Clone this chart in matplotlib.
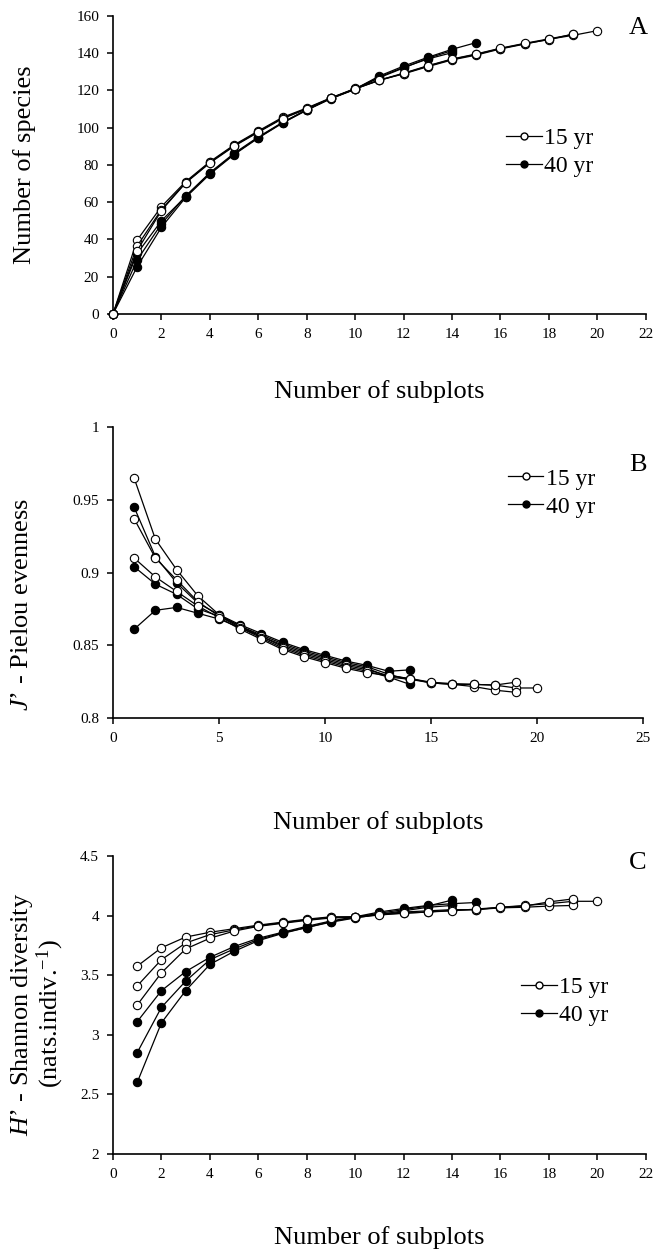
import matplotlib
matplotlib.use("Agg")
import matplotlib.pyplot as plt
from matplotlib.lines import Line2D

plt.rcParams['font.family'] = ['Liberation Serif', 'DejaVu Serif']
plt.rcParams['mathtext.fontset'] = 'custom'
plt.rcParams['mathtext.rm'] = 'Liberation Serif'
plt.rcParams['mathtext.it'] = 'Liberation Serif:italic'

# ---------------- Panel A: Number of species ----------------
a_open = [
    [0, 39.7, 57.6, 71, 81.7, 90.7, 98.2, 105.5, 110.5, 116, 121, 125.5, 128.8, 132.7, 136.3, 138.9, 142.2, 144.8, 147.4, 149.5, 152],
    [0, 36.5, 56, 70.5, 81.3, 90.3, 97.8, 105, 110.2, 115.8, 120.8, 125.3, 129, 133, 136.6, 139.3, 142.4, 145, 147.2, 150.2],
    [0, 34, 55.5, 70.3, 81, 90, 97.5, 104.8, 110, 115.7, 120.7, 125.5, 129.2, 133.2, 136.8, 139.5, 142.6, 145.2, 147.6, 150],
]
a_black = [
    [0, 32.5, 50, 63, 75.5, 85.8, 94.6, 102.6, 109.5, 115.7, 120.7, 127.7, 133, 137.7, 142, 145.6],
    [0, 29, 48.3, 63.3, 75.8, 86.2, 95, 102.8, 109.6, 115.8, 120.8, 127.2, 132.3, 136.8, 140.2],
    [0, 25.4, 46.5, 62.5, 75, 85.5, 94.4, 102.4, 109.3, 115.5, 120.5, 126.8, 132, 137.2, 141.3],
]

# ---------------- Panel B: Pielou evenness ----------------
b_open = [
    [0.965, 0.923, 0.902, 0.884, 0.871, 0.863, 0.856, 0.849, 0.844, 0.840, 0.836, 0.833, 0.829, 0.827, 0.824, 0.823, 0.823, 0.8225, 0.8205, 0.8205],
    [0.937, 0.910, 0.895, 0.880, 0.870, 0.862, 0.855, 0.848, 0.843, 0.839, 0.835, 0.832, 0.828, 0.8265, 0.824, 0.823, 0.8215, 0.819, 0.8175],
    [0.910, 0.897, 0.887, 0.877, 0.869, 0.861, 0.854, 0.847, 0.842, 0.838, 0.834, 0.831, 0.829, 0.827, 0.8245, 0.8235, 0.823, 0.8225, 0.8245],
]
b_black = [
    [0.945, 0.911, 0.893, 0.879, 0.871, 0.864, 0.858, 0.852, 0.847, 0.843, 0.839, 0.836, 0.832, 0.833],
    [0.904, 0.892, 0.885, 0.875, 0.870, 0.863, 0.857, 0.851, 0.846, 0.842, 0.838, 0.835, 0.830, 0.826],
    [0.861, 0.874, 0.876, 0.872, 0.868, 0.862, 0.856, 0.850, 0.845, 0.841, 0.837, 0.834, 0.828, 0.823],
]

# ---------------- Panel C: Shannon diversity ----------------
c_open = [
    [3.576, 3.73, 3.82, 3.86, 3.89, 3.92, 3.945, 3.97, 3.99, 3.99, 4.01, 4.03, 4.04, 4.05, 4.05, 4.07, 4.085, 4.10, 4.12, 4.12],
    [3.41, 3.63, 3.77, 3.84, 3.88, 3.915, 3.94, 3.965, 3.985, 3.99, 4.01, 4.02, 4.03, 4.045, 4.05, 4.065, 4.07, 4.08, 4.085],
    [3.25, 3.52, 3.72, 3.81, 3.87, 3.91, 3.935, 3.96, 3.98, 3.985, 4.005, 4.02, 4.03, 4.04, 4.055, 4.07, 4.08, 4.115, 4.14],
]
c_black = [
    [3.11, 3.37, 3.53, 3.65, 3.74, 3.81, 3.86, 3.91, 3.955, 3.99, 4.03, 4.06, 4.085, 4.10, 4.11],
    [2.85, 3.23, 3.45, 3.63, 3.72, 3.80, 3.855, 3.90, 3.95, 3.985, 4.02, 4.05, 4.08, 4.13],
    [2.60, 3.10, 3.37, 3.59, 3.70, 3.79, 3.85, 3.90, 3.945, 3.98, 4.01, 4.04, 4.07, 4.085],
]

legend_labels = ["15 yr", "40 yr"]
xlabel = "Number of subplots"

fig = plt.figure(figsize=(6.53, 12.5), dpi=100)
axA = fig.add_axes([0.173, 0.7488, 0.816, 0.2386])
axB = fig.add_axes([0.173, 0.4258, 0.812, 0.2323])
axC = fig.add_axes([0.173, 0.0768, 0.816, 0.2384])

ms = 6.0
lw = 0.9

def draw(ax, opens, blacks, x0):
    for s in blacks:
        xs = list(range(x0, x0 + len(s)))
        ax.plot(xs, s, '-', color='black', lw=lw, marker='o', ms=ms,
                mfc='black', mec='black', mew=0.8, zorder=3, clip_on=False)
    for s in opens:
        xs = list(range(x0, x0 + len(s)))
        ax.plot(xs, s, '-', color='black', lw=lw, marker='o', ms=ms,
                mfc='white', mec='black', mew=0.8, zorder=3, clip_on=False)

draw(axA, a_open, a_black, 0)
draw(axB, b_open, b_black, 1)
draw(axC, c_open, c_black, 1)

for ax in (axA, axB, axC):
    for sp in ('top', 'right'):
        ax.spines[sp].set_visible(False)
    for sp in ('left', 'bottom'):
        ax.spines[sp].set_linewidth(1.2)
    ax.tick_params(direction='out', length=4, width=1.1, labelsize=11, pad=6)

axA.set_xlim(0, 22)
axA.set_ylim(0, 160)
axA.set_xticks(range(0, 23, 2))
axA.set_yticks(range(0, 161, 20))

axB.set_xlim(0, 25)
axB.set_ylim(0.8, 1.0)
axB.set_xticks(range(0, 26, 5))
axB.set_yticks([0.8, 0.85, 0.9, 0.95, 1.0])
axB.set_yticklabels(["0.8", "0.85", "0.9", "0.95", "1"])

axC.set_xlim(0, 22)
axC.set_ylim(2, 4.5)
axC.set_xticks(range(0, 23, 2))
axC.set_yticks([2, 2.5, 3, 3.5, 4, 4.5])
axC.set_yticklabels(["2", "2.5", "3", "3.5", "4", "4.5"])

labfs = 19
axA.set_xlabel(xlabel, fontsize=labfs)
axA.xaxis.set_label_coords(0.5, -0.222)
axB.set_xlabel(xlabel, fontsize=labfs)
axB.xaxis.set_label_coords(0.5, -0.322)
axC.set_xlabel(xlabel, fontsize=labfs)
axC.xaxis.set_label_coords(0.5, -0.243)

axA.set_ylabel("Number of species", fontsize=labfs)
axA.yaxis.set_label_coords(-0.145, 0.5)
axB.set_ylabel(r"$\mathit{J}$’ - Pielou evenness", fontsize=labfs)
axB.yaxis.set_label_coords(-0.15, 0.39)
axC.set_ylabel("$\\mathit{H}$’ - Shannon diversity\n(nats.indiv.$^{-1}$)", fontsize=labfs,
               linespacing=1.0)
axC.yaxis.set_label_coords(-0.088, 0.47)

handles = [
    Line2D([], [], color='black', lw=lw, marker='o', ms=5, mfc='white', mec='black'),
    Line2D([], [], color='black', lw=lw, marker='o', ms=5, mfc='black', mec='black'),
]
leg_kw = dict(frameon=False, fontsize=17, handlelength=1.5, handletextpad=0.12,
              labelspacing=0.28, borderpad=0, borderaxespad=0, loc='upper left')
axA.legend(handles, legend_labels, bbox_to_anchor=(0.738, 0.625), **leg_kw)
axB.legend(handles, legend_labels, bbox_to_anchor=(0.745, 0.86), **leg_kw)
axC.legend(handles, legend_labels, bbox_to_anchor=(0.766, 0.595), **leg_kw)

fig.text(638 / 653, 1 - 28 / 1250, "A", fontsize=19, ha='center', va='center')
fig.text(638 / 653, 1 - 465 / 1250, "B", fontsize=19, ha='center', va='center')
fig.text(638 / 653, 1 - 863 / 1250, "C", fontsize=19, ha='center', va='center')

fig.savefig("out.png", dpi=100)
